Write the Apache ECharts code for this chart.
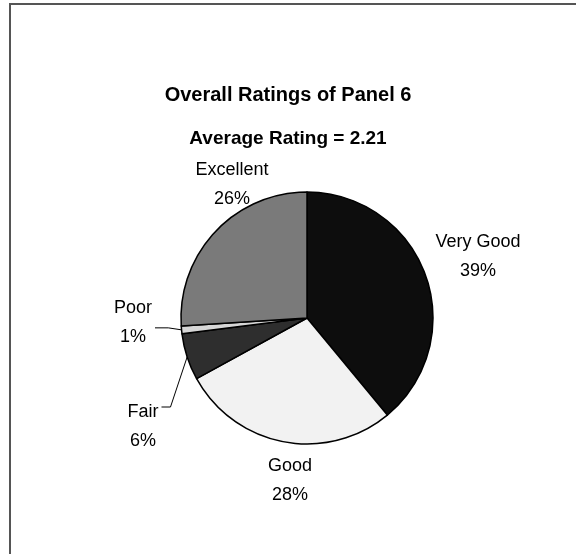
<!DOCTYPE html>
<html>
<head>
<meta charset="utf-8">
<script src="https://cdn.jsdelivr.net/npm/echarts@6/dist/echarts.min.js"></script>
<style>
  html, body { margin: 0; padding: 0; background: #fff; }
  #chart { width: 576px; height: 554px; }
</style>
</head>
<body>
<div id="chart"></div>
<script>
// data
var categories = ["Very Good", "Good", "Fair", "Poor", "Excellent"];
var values = [39, 28, 6, 1, 26];
var sliceColors = ["#0d0d0d", "#f2f2f2", "#2e2e2e", "#d6d6d6", "#7a7a7a"];
var titleText = "Overall Ratings of Panel 6";
var subText = "Average Rating = 2.21";

var CX = 307, CY = 318, R = 126;
// where each label block sits, relative to the pie centre
var labelOffsets = [[171, -61], [-17, 163], [-164, 109], [-174, 5], [-75, -133]];
var withLeader = ["Fair", "Poor"];

var chart = echarts.init(document.getElementById("chart"));

var pieData = categories.map(function (name, i) {
  return {
    name: name,
    value: values[i],
    itemStyle: { color: sliceColors[i] },
    labelLine: { show: withLeader.indexOf(name) >= 0 }
  };
});

chart.setOption({
  backgroundColor: "#fff",
  animation: false,
  title: [
    {
      text: titleText,
      left: "center",
      top: 80,
      textStyle: { fontFamily: "Liberation Sans", fontSize: 20, fontWeight: "bold", color: "#000" }
    },
    {
      text: subText,
      left: "center",
      top: 124,
      textStyle: { fontFamily: "Liberation Sans", fontSize: 19, fontWeight: "bold", color: "#000" }
    }
  ],
  graphic: [
    {
      type: "polyline",
      shape: { points: [[10, 554], [10, 4], [576, 4]] },
      style: { stroke: "#555", lineWidth: 2, fill: null }
    }
  ],
  series: [
    {
      type: "pie",
      center: [CX, CY],
      radius: R,
      startAngle: 90,
      clockwise: true,
      percentPrecision: 0,
      itemStyle: { borderColor: "#000", borderWidth: 1.5 },
      label: {
        position: "outside",
        formatter: "{b}\n{d}%",
        fontFamily: "Liberation Sans",
        fontSize: 18,
        lineHeight: 29,
        color: "#000"
      },
      labelLine: {
        length: 10,
        length2: 10,
        lineStyle: { color: "#000", width: 1 }
      },
      emphasis: { disabled: true },
      labelLayout: function (params) {
        var off = labelOffsets[params.dataIndex];
        var x = CX + off[0], y = CY + off[1];
        var res = { x: x, y: y, align: "center", verticalAlign: "middle" };
        var pts = params.labelLinePoints;
        var name = categories[params.dataIndex];
        if (pts && withLeader.indexOf(name) >= 0) {
          var right = x + params.labelRect.width / 2 + 3;
          var p1 = pts[0];
          var ly = name === "Poor" ? p1[1] - 2 : y - 20;
          var p2 = name === "Poor" ? [(p1[0] + right) / 2, ly] : [right + 9, ly];
          res.labelLinePoints = [p1, p2, [right, ly]];
        }
        return res;
      },
      data: pieData
    }
  ]
});
</script>
</body>
</html>
